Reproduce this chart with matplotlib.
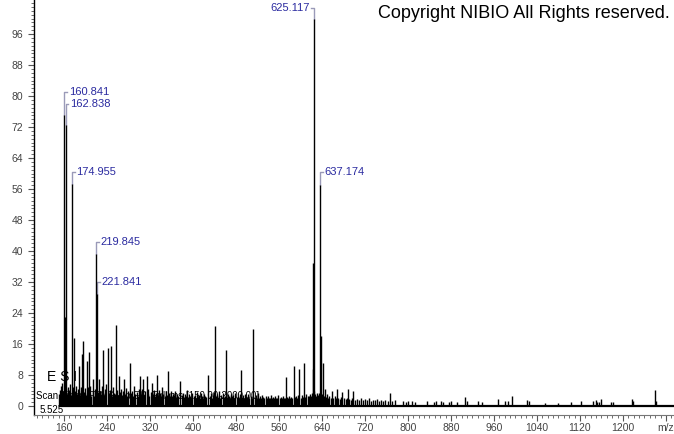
import matplotlib
matplotlib.use('Agg')
import matplotlib.pyplot as plt
from matplotlib.ticker import MultipleLocator, FixedLocator
import numpy as np

plt.rcParams.update({
    "font.size": 8,
    "font.family": 'sans-serif',
    "font.sans-serif": ['Liberation Sans', 'DejaVu Sans'],
})

# labelled peaks (m/z, relative intensity %)
peak_mz = [160.841, 162.838, 174.955, 219.845, 221.841, 625.117, 637.174]
peak_int = [75.0, 72.5, 57.2, 39.3, 29.0, 100.0, 57.0]
peak_text = ['160.841', '162.838', '174.955', '219.845', '221.841', '625.117', '637.174']

# unlabelled peaks
minor_mz_a = [150.9, 152.1, 153.0, 154.1, 155.0, 156.1, 157.0, 158.0, 158.9, 161.8, 163.9,
              165.0, 166.9, 168.0, 169.1, 170.9, 172.0, 173.1, 176.0, 177.9, 179.0, 180.9,
              182.1, 183.0, 185.0, 186.9, 188.0, 189.1, 190.9, 192.0, 193.0, 194.0, 196.0,
              197.1, 198.9, 200.9, 202.0, 203.1, 205.0, 206.5, 207.9, 209.0, 211.0, 213.1,
              214.9, 216.0, 217.9, 222.9, 224.0, 225.0, 227.0, 229.1, 230.9, 233.0, 234.0,
              235.9, 237.1, 239.0, 241.0, 242.9, 245.0, 247.0, 248.9, 251.0, 252.9, 254.9,
              256.1, 258.0, 259.9, 262.0, 263.9, 265.9, 268.0, 269.9, 272.0, 274.1, 275.9,
              278.0, 280.0, 283.0, 284.9, 287.0, 289.1, 291.0, 293.0, 295.1, 297.0, 299.0]
minor_int_a = [3.0, 4.2, 2.5, 5.1, 3.4, 6.0, 2.8, 4.0, 3.6, 23.0, 4.5,
               3.2, 5.0, 2.7, 4.1, 3.5, 5.6, 2.9, 4.8, 3.3, 17.6, 4.0,
               2.6, 5.2, 3.1, 4.4, 10.3, 2.9, 3.8, 5.0, 2.6, 13.5, 16.8,
               3.7, 4.6, 2.8, 11.6, 3.4, 4.9, 14.0, 3.0, 5.3, 2.7, 7.0,
               3.9, 2.5, 4.3, 3.6, 2.9, 7.0, 4.0, 3.2, 5.1, 14.5, 2.8,
               4.4, 3.0, 5.6, 15.0, 3.3, 4.1, 15.5, 2.7, 4.8, 3.5, 3.0,
               21.0, 4.2, 2.9, 7.7, 3.6, 4.5, 2.8, 3.9, 7.0, 3.1, 4.6,
               2.7, 3.8, 11.2, 3.3, 4.0, 2.6, 5.2, 3.0, 3.7, 2.5, 4.4]

minor_mz_b = [301.0, 303.1, 305.0, 307.0, 309.1, 311.0, 314.0, 315.9, 317.0, 319.1, 321.0,
              323.0, 325.1, 327.0, 329.0, 331.1, 333.0, 335.0, 337.1, 339.0, 341.1, 343.0,
              345.0, 347.1, 349.0, 351.1, 353.0, 355.0, 357.1, 359.0, 361.1, 363.0, 365.1,
              367.0, 369.1, 371.0, 373.0, 376.0, 378.9, 381.0, 383.1, 385.0, 387.1, 389.0,
              391.0, 393.1, 395.0, 397.1, 399.0, 401.1, 403.0, 405.1, 407.0, 409.1, 411.0,
              413.1, 415.0, 417.1, 419.0, 421.1, 423.0, 425.1, 428.0, 430.9, 433.0, 435.1,
              437.0, 439.0, 441.0, 443.1, 445.0, 447.1, 449.0, 451.1, 453.0, 455.1, 457.0,
              459.1, 461.0, 463.1, 465.0, 467.1, 469.0, 471.1, 473.0, 475.1, 477.0, 479.1,
              481.0, 483.1, 485.0, 487.1, 489.0, 491.1, 493.0, 495.1, 497.0, 499.1]
minor_int_b = [7.8, 3.2, 4.5, 7.0, 2.8, 3.9, 7.8, 3.0, 4.4, 2.6, 3.7,
               6.0, 3.1, 4.2, 2.7, 3.5, 8.0, 2.9, 4.1, 3.3, 2.6, 4.8,
               3.0, 2.5, 3.9, 2.8, 9.0, 3.4, 2.7, 4.0, 2.5, 3.2, 2.9,
               3.8, 2.4, 3.1, 2.7, 6.5, 2.9, 3.5, 2.4, 3.0, 2.6, 4.2,
               2.3, 3.1, 2.6, 2.2, 3.4, 2.5, 2.8, 2.2, 3.6, 2.4, 2.9,
               2.1, 3.3, 2.5, 2.2, 3.0, 2.6, 2.3, 8.0, 2.7, 3.4, 2.2,
               2.9, 3.7, 20.7, 2.6, 3.1, 2.4, 4.0, 2.2, 2.8, 3.5, 2.3,
               2.7, 14.5, 2.4, 3.2, 2.6, 2.2, 3.0, 2.5, 2.8, 2.2, 3.3,
               2.4, 2.6, 2.2, 3.1, 9.3, 2.4, 2.8, 2.2, 3.0, 2.5]

minor_mz_c = [501.0, 503.1, 505.0, 507.1, 509.0, 512.0, 514.9, 517.0, 519.1, 521.0, 523.1,
              525.0, 527.1, 529.0, 531.1, 533.0, 535.1, 537.0, 539.1, 541.0, 543.1, 545.0,
              547.1, 549.0, 551.1, 553.0, 555.1, 557.0, 559.1, 561.0, 563.1, 565.0, 567.1,
              569.0, 571.1, 573.0, 575.1, 577.0, 579.1, 581.0, 583.1, 585.0, 588.0, 590.1,
              592.0, 594.1, 596.0, 598.0, 600.1, 602.0, 604.1, 607.0, 609.1, 611.0, 613.1,
              615.0, 617.1, 619.0, 621.1, 623.1, 624.1, 626.1, 627.1, 629.0, 631.1, 633.0,
              635.1, 638.2, 640.0, 642.0, 644.1, 646.0, 648.1, 650.0, 652.1, 654.0, 656.1,
              659.0, 661.1, 664.0, 666.1, 668.0, 670.1, 673.0, 676.1, 678.0, 681.1, 684.0,
              686.1, 688.0, 691.1, 694.0, 696.1, 698.0, 701.1, 705.0, 709.1, 713.0, 716.1,
              720.0, 724.1, 727.0, 731.1, 735.0, 739.1, 742.0, 746.1, 750.0, 754.1, 758.0,
              762.1, 767.0, 771.1, 776.0]
minor_int_c = [2.3, 3.0, 2.1, 2.7, 2.2, 20.0, 2.4, 2.8, 2.1, 3.4, 2.2,
               2.6, 2.0, 2.9, 2.3, 2.1, 2.7, 2.0, 2.5, 2.2, 2.0, 2.8,
               2.1, 2.4, 2.0, 2.6, 2.2, 2.0, 2.9, 2.1, 2.3, 2.0, 2.5,
               2.2, 2.0, 7.5, 2.3, 2.1, 2.7, 2.0, 2.4, 2.2, 10.3, 2.3,
               2.6, 2.1, 2.8, 9.7, 2.2, 2.9, 2.4, 11.0, 2.3, 3.0, 2.5,
               2.7, 3.2, 2.6, 3.4, 9.5, 37.0, 4.0, 3.1, 2.7, 3.5, 2.8,
               3.3, 18.0, 3.0, 11.0, 2.6, 4.4, 2.3, 3.0, 2.2, 2.7, 2.1,
               4.0, 2.2, 2.5, 2.0, 4.5, 2.2, 1.9, 2.4, 3.6, 2.0, 1.8,
               2.2, 4.4, 1.9, 1.7, 2.1, 4.0, 1.6, 1.9, 1.5, 2.2, 1.6,
               1.8, 1.5, 2.0, 1.4, 1.7, 1.5, 1.9, 1.4, 1.6, 1.3, 1.5,
               1.4, 3.4, 1.2, 1.5]

minor_mz_d = [791.0, 797.0, 800.6, 807.0, 814.0, 835.0, 849.0, 853.0, 862.0, 866.0, 877.0,
              880.0, 892.0, 906.0, 909.0, 931.0, 938.0, 967.0, 980.0, 987.0, 994.0, 1021.0,
              1026.0, 1055.0, 1080.0, 1103.0, 1122.0, 1144.0, 1149.0, 1152.0, 1156.0, 1160.0,
              1178.0, 1182.0, 1216.0, 1218.0, 1260.0, 1262.0]
minor_int_d = [1.3, 1.0, 1.3, 1.3, 1.0, 1.3, 1.0, 1.2, 1.3, 1.1, 1.0,
               1.3, 1.0, 2.3, 1.3, 1.2, 1.0, 1.8, 1.2, 1.2, 2.5, 1.7,
               1.4, 0.9, 0.9, 1.0, 1.2, 1.2, 1.5, 1.0, 1.0, 1.8,
               1.1, 1.1, 1.8, 1.3, 4.2, 1.2]

mz_all = np.concatenate([peak_mz, minor_mz_a, minor_mz_b, minor_mz_c, minor_mz_d])
int_all = np.concatenate([peak_int, minor_int_a, minor_int_b, minor_int_c, minor_int_d])

# label placement: height of the bracket (in %) and side of the text
label_level = [81.0, 77.9, 60.4, 42.3, 32.0, 102.7, 60.4]
label_side = [1, 1, 1, 1, 1, -1, 1]

fig = plt.figure(figsize=(6.74, 4.34), dpi=100)
ax = fig.add_axes([34 / 674, 19 / 434, 640 / 674, 415 / 434])

ax.hlines(0, 150, 1300, color='black', lw=1.6, zorder=3)
ax.vlines(mz_all, 0, int_all, color='black', lw=1.0, zorder=3)

line_col = '#9a9ab8'
text_col = '#2b2ba0'
for mz, h, txt, lev, side in zip(peak_mz, peak_int, peak_text, label_level, label_side):
    ax.plot([mz, mz, mz + side * 5], [h, lev, lev], color=line_col, lw=1, zorder=2)
    ax.text(mz + side * 8, lev, txt, color=text_col, fontsize=8,
            ha='left' if side > 0 else 'right', va='center', zorder=4)

# instrument info, partly hidden behind the peaks
ax.text(128, 7.5, 'E S I', fontsize=10, va='center', ha='left', zorder=1)
ax.text(107, 2.6, 'Scan Filter: FTMS + p ESI Full ms [150.00-2000.00]', fontsize=7,
        va='center', ha='left', zorder=1)
ax.text(115, -1.0, '5.525', fontsize=7, va='center', ha='left', zorder=1)

ax.set_xlim(104.2, 1295)
ax.set_ylim(-2.3, 104.8)

xt = np.arange(160, 1281, 80)
ax.set_xticks(xt)
ax.set_xticklabels([str(v) for v in xt[:-1]] + ['m/z'])
ax.xaxis.set_minor_locator(MultipleLocator(10))
ax.set_yticks(np.arange(0, 97, 8))
ax.yaxis.set_minor_locator(FixedLocator(np.arange(0, 105, 1)))

ax.tick_params(which='major', direction='out', length=4, width=0.8, colors='#555555',
               labelcolor='#444444', labelsize=7.5, pad=1.5)
ax.tick_params(axis='y', which='major', pad=4)
ax.tick_params(which='minor', direction='out', length=2, width=0.6, colors='#555555')

for s in ['top', 'right']:
    ax.spines[s].set_visible(False)
ax.spines['left'].set_color('black')
ax.spines['left'].set_linewidth(1)
ax.spines['bottom'].set_color('#777777')
ax.spines['bottom'].set_linewidth(0.8)

fig.text(378 / 674, 1 - 14 / 434, 'Copyright NIBIO All Rights reserved.', fontsize=13,
         ha='left', va='center')

fig.savefig('out.png', dpi=100)
